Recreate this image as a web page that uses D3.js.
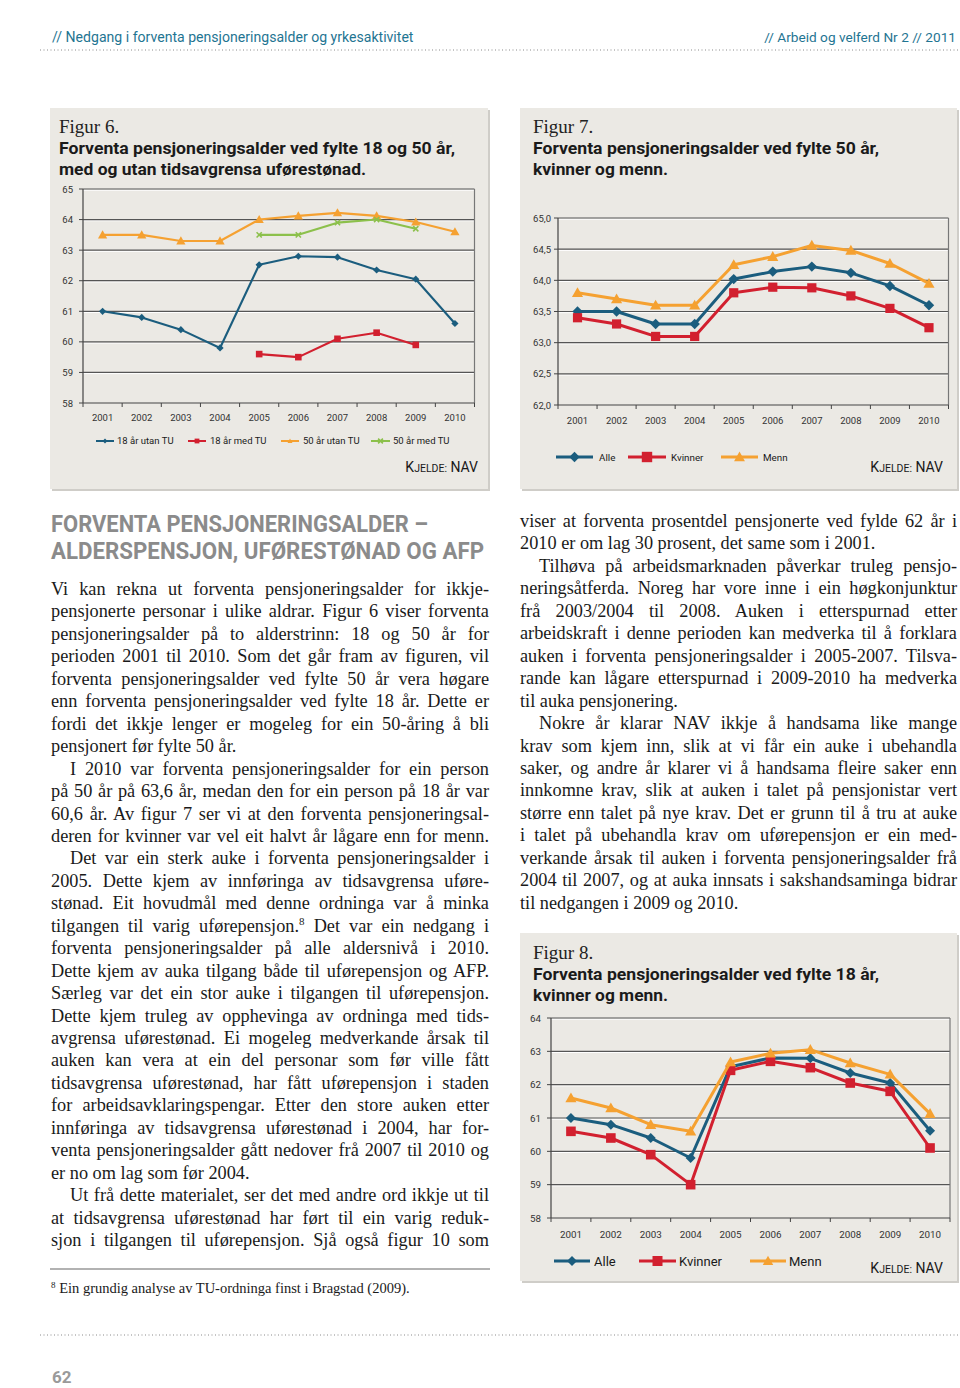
<!DOCTYPE html>
<html><head><meta charset="utf-8">
<script src="https://cdn.jsdelivr.net/npm/d3@7"></script>
<style>body{margin:0;background:#fff} svg{display:block}</style>
</head><body>
<svg id="page" width="960" height="1388"></svg>
<script>
// ---------- DATA ----------
const years = ["2001","2002","2003","2004","2005","2006","2007","2008","2009","2010"];

// Figur 6
const f6Utan18 = [61.0, 60.8, 60.4, 59.8, 62.52, 62.8, 62.77, 62.35, 62.05, 60.6];
const f6Med18  = [null, null, null, null, 59.6, 59.5, 60.1, 60.3, 59.9, null];
const f6Utan50 = [63.5, 63.5, 63.3, 63.3, 64.0, 64.12, 64.22, 64.12, 63.92, 63.6];
const f6Med50  = [null, null, null, null, 63.5, 63.5, 63.9, 64.0, 63.7, null];
const f6Ticks  = [58, 59, 60, 61, 62, 63, 64, 65];
const f6Names  = ["18 år utan TU", "18 år med TU", "50 år utan TU", "50 år med TU"];

// Figur 7
const f7Alle    = [63.5, 63.5, 63.3, 63.3, 64.02, 64.14, 64.22, 64.12, 63.91, 63.6];
const f7Kvinner = [63.4, 63.3, 63.1, 63.1, 63.8, 63.89, 63.88, 63.75, 63.55, 63.24];
const f7Menn    = [63.8, 63.7, 63.6, 63.6, 64.25, 64.38, 64.56, 64.48, 64.27, 63.95];
const f7Ticks   = [62.0, 62.5, 63.0, 63.5, 64.0, 64.5, 65.0];

// Figur 8
const f8Alle    = [61.0, 60.8, 60.4, 59.8, 62.54, 62.8, 62.79, 62.35, 62.05, 60.62];
const f8Kvinner = [60.6, 60.4, 59.9, 59.0, 62.43, 62.7, 62.51, 62.05, 61.8, 60.1];
const f8Menn    = [61.6, 61.3, 60.8, 60.6, 62.68, 62.94, 63.05, 62.65, 62.31, 61.13];
const f8Ticks   = [58, 59, 60, 61, 62, 63, 64];
const genderNames = ["Alle", "Kvinner", "Menn"];

// ---------- STYLE ----------
const BLUE = "#1b5d7e", RED = "#d2202f", ORANGE = "#f5a131", GREEN = "#8cc04b";
const PANEL = "#ebe9e4", SANS = "Roboto, 'DejaVu Sans', sans-serif", SERIF = "'Liberation Serif', 'Times New Roman', serif";
const commaFmt = v => d3.format(".1f")(v).replace(".", ",");

const svg = d3.select("#page");

// fit a text to a width by adjusting its font size (no glyph stretching)
function fitText(sel, target, base) {
  const w = sel.node().getComputedTextLength();
  sel.attr("font-size", base * target / w);
  return sel;
}

// ---------- PAGE FRAME ----------
fitText(svg.append("text").attr("x", 52).attr("y", 42).attr("font-family", SANS).attr("font-size", 14)
  .attr("fill", "#1f7592").text("// Nedgang i forventa pensjoneringsalder og yrkesaktivitet"), 362, 14);
fitText(svg.append("text").attr("x", 956).attr("y", 42).attr("text-anchor", "end").attr("font-family", SANS).attr("font-size", 14)
  .attr("fill", "#1f7592").text("// Arbeid og velferd Nr 2 // 2011"), 192, 14);
[50, 1335].forEach(y => svg.append("line").attr("x1", 40).attr("x2", 960).attr("y1", y).attr("y2", y)
  .attr("stroke", "#8a8a8a").attr("stroke-width", 1).attr("stroke-dasharray", "1,2.5"));
svg.append("text").attr("x", 52).attr("y", 1383).attr("font-family", SANS).attr("font-weight", "bold")
  .attr("font-size", 17).attr("fill", "#9a9a9a").text("62");

// ---------- PANELS ----------
function panel(x, y, w, h) {
  svg.append("rect").attr("x", x + 2).attr("y", y + 2).attr("width", w).attr("height", h).attr("fill", "#cfcdc8");
  svg.append("rect").attr("x", x).attr("y", y).attr("width", w).attr("height", h).attr("fill", PANEL);
}
panel(50, 108, 438, 381);
panel(520, 108, 437, 381);
panel(520, 933, 437, 348);

function figTitle(x, y, num, l1, w1, l2, w2, fs) {
  svg.append("text").attr("x", x).attr("y", y).attr("font-family", SERIF).attr("font-size", fs + 3)
    .attr("fill", "#222").text("Figur " + num + ".");
  svg.append("text").attr("x", x).attr("y", y + 21).attr("font-family", SANS).attr("font-weight", "bold")
    .attr("font-size", fs).attr("fill", "#1a1a1a").attr("textLength", w1).attr("lengthAdjust", "spacingAndGlyphs").text(l1);
  svg.append("text").attr("x", x).attr("y", y + 42).attr("font-family", SANS).attr("font-weight", "bold")
    .attr("font-size", fs).attr("fill", "#1a1a1a").attr("textLength", w2).attr("lengthAdjust", "spacingAndGlyphs").text(l2);
}
figTitle(59, 133, 6, "Forventa pensjoneringsalder ved fylte 18 og 50 år,", 396, "med og utan tidsavgrensa uførestønad.", 307, 16);
figTitle(533, 133, 7, "Forventa pensjoneringsalder ved fylte 50 år,", 346, "kvinner og menn.", 135, 16);
figTitle(533, 959, 8, "Forventa pensjoneringsalder ved fylte 18 år,", 346, "kvinner og menn.", 135, 16);

function kjelde(xEnd, y) {
  const t = svg.append("text").attr("x", xEnd).attr("y", y).attr("text-anchor", "end")
    .attr("font-family", SANS).attr("fill", "#1a1a1a").attr("font-size", 14);
  t.append("tspan").text("K");
  t.append("tspan").attr("font-size", 10.5).text("JELDE:");
  t.append("tspan").text(" NAV");
}

// ---------- MARKERS ----------
function marker(g, type, x, y, s, color) {
  if (type === "diamond") {
    g.append("path").attr("d", `M${x},${y - s}L${x + s},${y}L${x},${y + s}L${x - s},${y}Z`).attr("fill", color);
  } else if (type === "square") {
    g.append("rect").attr("x", x - s).attr("y", y - s).attr("width", 2 * s).attr("height", 2 * s).attr("fill", color);
  } else if (type === "triangle") {
    g.append("path").attr("d", `M${x},${y - s * 1.05}L${x + s * 1.05},${y + s * 0.8}L${x - s * 1.05},${y + s * 0.8}Z`).attr("fill", color);
  } else if (type === "cross") {
    g.append("path").attr("d", `M${x - s},${y - s}L${x + s},${y + s}M${x - s},${y + s}L${x + s},${y - s}`)
      .attr("stroke", color).attr("stroke-width", 1.6).attr("fill", "none");
  }
}

// ---------- CHART ----------
function chart(cfg) {
  const g = svg.append("g");
  const x = d3.scaleBand().domain(years).range(cfg.xRange);
  const y = d3.scaleLinear().domain(cfg.yDomain).range(cfg.yRange);
  const [x0, x1] = cfg.xRange;
  const yb = y(cfg.yDomain[0]), yt = y(cfg.yDomain[1]);
  cfg.ticks.forEach(t => {
    if (t === cfg.yDomain[0]) return;
    g.append("line").attr("x1", x0).attr("x2", x1).attr("y1", y(t) + 1.2).attr("y2", y(t) + 1.2)
      .attr("stroke", "#ffffff").attr("stroke-width", 1);
    g.append("line").attr("x1", x0).attr("x2", x1).attr("y1", y(t)).attr("y2", y(t))
      .attr("stroke", "#555").attr("stroke-width", 1.2);
  });
  g.append("line").attr("x1", x1).attr("x2", x1).attr("y1", yt).attr("y2", yb).attr("stroke", "#777").attr("stroke-width", 1.2);
  g.append("line").attr("x1", x0).attr("x2", x0).attr("y1", yt).attr("y2", yb).attr("stroke", "#444").attr("stroke-width", 1.2);
  g.append("line").attr("x1", x0).attr("x2", x1).attr("y1", yb).attr("y2", yb).attr("stroke", "#444").attr("stroke-width", 1.2);
  cfg.ticks.forEach(t => {
    g.append("line").attr("x1", x0 - 4).attr("x2", x0).attr("y1", y(t)).attr("y2", y(t)).attr("stroke", "#444");
    g.append("text").attr("x", x0 - cfg.labelGap).attr("y", y(t) + 3.5).attr("text-anchor", "end")
      .attr("font-family", SANS).attr("font-size", cfg.fs).attr("fill", "#333").text(cfg.fmt(t));
  });
  const edges = years.map(d => x(d)).concat([x1]);
  edges.forEach(e => g.append("line").attr("x1", e).attr("x2", e).attr("y1", yb).attr("y2", yb + 4).attr("stroke", "#444"));
  years.forEach(d => g.append("text").attr("x", x(d) + x.bandwidth() / 2).attr("y", cfg.xLabelY).attr("text-anchor", "middle")
    .attr("font-family", SANS).attr("font-size", cfg.fs).attr("fill", "#333").text(d));
  const line = d3.line().defined(d => d.v != null).x(d => x(d.k) + x.bandwidth() / 2).y(d => y(d.v));
  cfg.series.forEach(s => {
    const pts = years.map((k, i) => ({ k, v: s.values[i] }));
    g.append("path").attr("d", line(pts)).attr("fill", "none").attr("stroke", s.color)
      .attr("stroke-width", cfg.lw).attr("stroke-linejoin", "round");
    pts.filter(p => p.v != null).forEach(p => marker(g, s.marker, x(p.k) + x.bandwidth() / 2, y(p.v), s.ms, s.color));
  });
  cfg.legend.items.forEach((it, i) => {
    const s = cfg.series[i];
    const ly = cfg.legend.y;
    g.append("line").attr("x1", it.x1).attr("x2", it.x2).attr("y1", ly).attr("y2", ly)
      .attr("stroke", s.color).attr("stroke-width", cfg.legend.lw);
    marker(g, s.marker, (it.x1 + it.x2) / 2, ly, cfg.legend.ms, s.color);
    g.append("text").attr("x", it.tx).attr("y", ly + cfg.legend.fs * 0.36).attr("font-family", SANS)
      .attr("font-size", cfg.legend.fs).attr("fill", "#1a1a1a").text(it.name);
  });
}

chart({
  xRange: [83, 474.5], yDomain: [58, 65], yRange: [403, 189], ticks: f6Ticks, fmt: d => d,
  labelGap: 10, fs: 9.5, xLabelY: 421, lw: 2.1,
  series: [
    { values: f6Utan18, color: BLUE, marker: "diamond", ms: 3.6 },
    { values: f6Med18, color: RED, marker: "square", ms: 3.3 },
    { values: f6Utan50, color: ORANGE, marker: "triangle", ms: 4.4 },
    { values: f6Med50, color: GREEN, marker: "cross", ms: 2.6 }
  ],
  legend: { y: 441, lw: 2, ms: 2.4, fs: 9.5, items: [
    { x1: 96, x2: 114, tx: 117, name: f6Names[0] },
    { x1: 188, x2: 206, tx: 210, name: f6Names[1] },
    { x1: 281, x2: 299, tx: 303, name: f6Names[2] },
    { x1: 371, x2: 390, tx: 393, name: f6Names[3] }
  ] }
});
kjelde(478, 472);

chart({
  xRange: [558, 948.5], yDomain: [62, 65], yRange: [405, 218], ticks: f7Ticks, fmt: commaFmt,
  labelGap: 7, fs: 9.5, xLabelY: 424, lw: 3,
  series: [
    { values: f7Alle, color: BLUE, marker: "diamond", ms: 5.2 },
    { values: f7Kvinner, color: RED, marker: "square", ms: 4.6 },
    { values: f7Menn, color: ORANGE, marker: "triangle", ms: 5.3 }
  ],
  legend: { y: 457, lw: 3, ms: 5.2, fs: 9.8, items: [
    { x1: 556, x2: 593, tx: 599, name: genderNames[0] },
    { x1: 628, x2: 666, tx: 671, name: genderNames[1] },
    { x1: 721, x2: 758, tx: 763, name: genderNames[2] }
  ] }
});
kjelde(943, 472);

chart({
  xRange: [551, 950], yDomain: [58, 64], yRange: [1218, 1018], ticks: f8Ticks, fmt: d => d,
  labelGap: 10, fs: 9.8, xLabelY: 1238, lw: 3,
  series: [
    { values: f8Alle, color: BLUE, marker: "diamond", ms: 5 },
    { values: f8Kvinner, color: RED, marker: "square", ms: 4.8 },
    { values: f8Menn, color: ORANGE, marker: "triangle", ms: 5.3 }
  ],
  legend: { y: 1261, lw: 3, ms: 5, fs: 13, items: [
    { x1: 554, x2: 590, tx: 594, name: genderNames[0] },
    { x1: 639, x2: 676, tx: 679, name: genderNames[1] },
    { x1: 750, x2: 786, tx: 789, name: genderNames[2] }
  ] }
});
kjelde(943, 1273);

// ---------- HEADING ----------
svg.append("text").attr("x", 51).attr("y", 532).attr("font-family", SANS).attr("font-weight", "bold")
  .attr("font-size", 24).attr("fill", "#8b8b8b").attr("textLength", 377).attr("lengthAdjust", "spacingAndGlyphs")
  .text("FORVENTA PENSJONERINGSALDER –");
svg.append("text").attr("x", 51).attr("y", 559).attr("font-family", SANS).attr("font-weight", "bold")
  .attr("font-size", 24).attr("fill", "#8b8b8b").attr("textLength", 433).attr("lengthAdjust", "spacingAndGlyphs")
  .text("ALDERSPENSJON, UFØRESTØNAD OG AFP");

// ---------- BODY TEXT ----------
const leftLines = [
  ["Vi kan rekna ut forventa pensjoneringsalder for ikkje-", 1, 0],
  ["pensjonerte personar i ulike aldrar. Figur 6 viser forventa", 1, 0],
  ["pensjoneringsalder på to alderstrinn: 18 og 50 år for", 1, 0],
  ["perioden 2001 til 2010. Som det går fram av figuren, vil", 1, 0],
  ["forventa pensjoneringsalder ved fylte 50 år vera høgare", 1, 0],
  ["enn forventa pensjoneringsalder ved fylte 18 år. Dette er", 1, 0],
  ["fordi det ikkje lenger er mogeleg for ein 50-åring å bli", 1, 0],
  ["pensjonert før fylte 50 år.", 0, 0],
  ["I 2010 var forventa pensjoneringsalder for ein person", 1, 1],
  ["på 50 år på 63,6 år, medan den for ein person på 18 år var", 1, 0],
  ["60,6 år. Av figur 7 ser vi at den forventa pensjoneringsal-", 1, 0],
  ["deren for kvinner var vel eit halvt år lågare enn for menn.", 1, 0],
  ["Det var ein sterk auke i forventa pensjoneringsalder i", 1, 1],
  ["2005. Dette kjem av innføringa av tidsavgrensa uføre-", 1, 0],
  ["stønad. Eit hovudmål med denne ordninga var å minka", 1, 0],
  ["tilgangen til varig uførepensjon.^8 Det var ein nedgang i", 1, 0],
  ["forventa pensjoneringsalder på alle aldersnivå i 2010.", 1, 0],
  ["Dette kjem av auka tilgang både til uførepensjon og AFP.", 1, 0],
  ["Særleg var det ein stor auke i tilgangen til uførepensjon.", 1, 0],
  ["Dette kjem truleg av opphevinga av ordninga med tids-", 1, 0],
  ["avgrensa uførestønad. Ei mogeleg medverkande årsak til", 1, 0],
  ["auken kan vera at ein del personar som før ville fått", 1, 0],
  ["tidsavgrensa uførestønad, har fått uførepensjon i staden", 1, 0],
  ["for arbeidsavklaringspengar. Etter den store auken etter", 1, 0],
  ["innføringa av tidsavgrensa uførestønad i 2004, har for-", 1, 0],
  ["venta pensjoneringsalder gått nedover frå 2007 til 2010 og", 1, 0],
  ["er no om lag som før 2004.", 0, 0],
  ["Ut frå dette materialet, ser det med andre ord ikkje ut til", 1, 1],
  ["at tidsavgrensa uførestønad har ført til ein varig reduk-", 1, 0],
  ["sjon i tilgangen til uførepensjon. Sjå også figur 10 som", 1, 0]
];
const rightLines = [
  ["viser at forventa prosentdel pensjonerte ved fylde 62 år i", 1, 0],
  ["2010 er om lag 30 prosent, det same som i 2001.", 0, 0],
  ["Tilhøva på arbeidsmarknaden påverkar truleg pensjo-", 1, 1],
  ["neringsåtferda. Noreg har vore inne i ein høgkonjunktur", 1, 0],
  ["frå 2003/2004 til 2008. Auken i etterspurnad etter", 1, 0],
  ["arbeidskraft i denne perioden kan medverka til å forklara", 1, 0],
  ["auken i forventa pensjoneringsalder i 2005-2007. Tilsva-", 1, 0],
  ["rande kan lågare etterspurnad i 2009-2010 ha medverka", 1, 0],
  ["til auka pensjonering.", 0, 0],
  ["Nokre år klarar NAV ikkje å handsama like mange", 1, 1],
  ["krav som kjem inn, slik at vi får ein auke i ubehandla", 1, 0],
  ["saker, og andre år klarer vi å handsama fleire saker enn", 1, 0],
  ["innkomne krav, slik at auken i talet på pensjonistar vert", 1, 0],
  ["større enn talet på nye krav. Det er grunn til å tru at auke", 1, 0],
  ["i talet på ubehandla krav om uførepensjon er ein med-", 1, 0],
  ["verkande årsak til auken i forventa pensjoneringsalder frå", 1, 0],
  ["2004 til 2007, og at auka innsats i sakshandsaminga bidrar", 1, 0],
  ["til nedgangen i 2009 og 2010.", 0, 0]
];

function column(lines, x0, width, y0) {
  const lh = 22.45, fs = 18.3, indent = 19;
  lines.forEach((ln, i) => {
    const [str, just, ind] = ln;
    const xs = x0 + (ind ? indent : 0);
    const w = width - (ind ? indent : 0);
    const t = svg.append("text").attr("x", xs).attr("y", y0 + i * lh)
      .attr("font-family", SERIF).attr("font-size", fs).attr("fill", "#1a1a1a");
    const parts = str.split("^8");
    t.append("tspan").text(parts[0]);
    if (parts.length > 1) {
      t.append("tspan").attr("font-size", 11).attr("dy", -7).text("8");
      t.append("tspan").attr("dy", 7).text(parts[1]);
    }
    if (just) {
      const natural = t.node().getComputedTextLength();
      const spaces = (str.match(/ /g) || []).length;
      if (spaces > 0) {
        const ws = (w - natural) / spaces;
        if (ws >= -2.5) t.attr("word-spacing", ws);
        else { t.attr("word-spacing", -2.5); t.attr("textLength", w).attr("lengthAdjust", "spacing"); }
      }
    }
  });
}
column(leftLines, 51, 438, 595);
column(rightLines, 520, 437, 527);

// ---------- FOOTNOTE ----------
svg.append("line").attr("x1", 50).attr("x2", 490).attr("y1", 1269).attr("y2", 1269).attr("stroke", "#666").attr("stroke-width", 1.2);
const fn = svg.append("text").attr("x", 51).attr("y", 1293).attr("font-family", SERIF).attr("font-size", 14.5).attr("fill", "#1a1a1a");
fn.append("tspan").attr("font-size", 9).attr("dy", -5).text("8");
fn.append("tspan").attr("dy", 5).text(" Ein grundig analyse av TU-ordninga finst i Bragstad (2009).");
</script>
</body></html>
